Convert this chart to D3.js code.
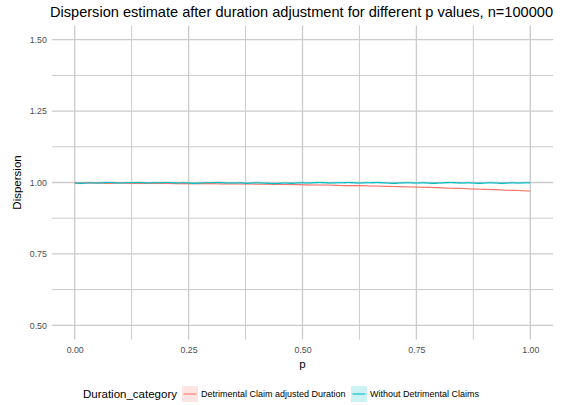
<!DOCTYPE html>
<html>
<head>
<meta charset="utf-8">
<script src="https://cdn.jsdelivr.net/npm/d3@7"></script>
<style>
  html, body { margin: 0; padding: 0; background: #fff; }
  svg { display: block; font-family: "Liberation Sans", Arial, sans-serif; }
</style>
</head>
<body>
<svg id="chart" width="563" height="405"></svg>
<script>
// p grids
const pDetrimental = d3.range(41).map(i => i / 40);
const pWithout = d3.range(81).map(i => i / 80);

// Mean dispersion estimate, detrimental claims kept with adjusted duration
const detrimentalMean = [
  0.998, 0.998, 0.998, 0.997, 0.998, 0.997, 0.997, 0.997, 0.997, 0.996,
  0.996, 0.996, 0.996, 0.995, 0.995, 0.995, 0.994, 0.994, 0.993, 0.993,
  0.992, 0.991, 0.991, 0.990, 0.989, 0.989, 0.988, 0.987, 0.986, 0.985,
  0.984, 0.983, 0.982, 0.980, 0.979, 0.977, 0.976, 0.975, 0.973, 0.972,
  0.970
];

// Mean dispersion estimate, detrimental claims removed
const withoutMean = [
  0.998, 0.997, 0.998, 0.999, 0.998, 0.999, 1.000, 0.999, 0.998, 0.999,
  0.999, 1.000, 0.999, 0.998, 0.999, 0.999, 1.000, 0.999, 0.998, 0.999,
  0.998, 0.997, 0.998, 0.999, 0.999, 1.000, 0.999, 0.998, 0.998, 0.999,
  0.997, 0.998, 0.999, 0.998, 0.997, 0.996, 0.997, 0.998, 0.997, 0.998,
  0.999, 0.998, 0.999, 1.000, 0.999, 0.998, 0.999, 0.999, 1.000, 0.999,
  0.998, 0.999, 0.999, 1.000, 0.999, 0.998, 0.997, 0.998, 0.999, 0.999,
  0.998, 0.999, 0.998, 0.997, 0.998, 0.999, 1.000, 0.999, 0.998, 0.999,
  0.998, 0.997, 0.998, 0.999, 0.998, 0.997, 0.998, 0.999, 0.998, 0.999,
  0.999
];

// Half-width of the confidence band for each category
const detrimentalBand = 0.0028;
const withoutBand = 0.0035;

const categories = ["Detrimental Claim adjusted Duration", "Without Detrimental Claims"];
const categoryColors = ["#F8766D", "#00BFC4"];

const xTicks = [0, 0.25, 0.5, 0.75, 1];
const xMinor = [0.125, 0.375, 0.625, 0.875];
const yTicks = [0.5, 0.75, 1.0, 1.25, 1.5];
const yMinor = [0.625, 0.875, 1.125, 1.375];

const titleText = "Dispersion estimate after duration adjustment for different p values, n=100000";

const svg = d3.select("#chart");

const x = d3.scaleLinear().domain([0, 1]).range([74.7, 530.3]);
const y = d3.scaleLinear().domain([0.5, 1.5]).range([325.3, 39.7]);

const panel = { left: 51.9, right: 553.1, top: 25.4, bottom: 339.6 };

const grid = svg.append("g");
const gridColor = "#cbcbcb";

// horizontal grid lines
grid.selectAll("line.hmin").data(yMinor).join("line")
  .attr("x1", panel.left).attr("x2", panel.right)
  .attr("y1", d => y(d)).attr("y2", d => y(d))
  .attr("stroke", gridColor).attr("stroke-width", 1);
grid.selectAll("line.hmaj").data(yTicks).join("line")
  .attr("x1", panel.left).attr("x2", panel.right)
  .attr("y1", d => y(d)).attr("y2", d => y(d))
  .attr("stroke", gridColor).attr("stroke-width", 1.3);

// vertical grid lines
grid.selectAll("line.vmin").data(xMinor).join("line")
  .attr("y1", panel.top).attr("y2", panel.bottom)
  .attr("x1", d => x(d)).attr("x2", d => x(d))
  .attr("stroke", gridColor).attr("stroke-width", 1);
grid.selectAll("line.vmaj").data(xTicks).join("line")
  .attr("y1", panel.top).attr("y2", panel.bottom)
  .attr("x1", d => x(d)).attr("x2", d => x(d))
  .attr("stroke", gridColor).attr("stroke-width", 1.3);

// axes (labels only, no domain line / ticks)
const fmt = d3.format(".2f");
const xAxis = svg.append("g")
  .attr("transform", `translate(0,${panel.bottom})`)
  .call(d3.axisBottom(x).tickValues(xTicks).tickFormat(fmt).tickSize(0).tickPadding(7));
const yAxis = svg.append("g")
  .attr("transform", `translate(${panel.left},0)`)
  .call(d3.axisLeft(y).tickValues(yTicks).tickFormat(fmt).tickSize(0).tickPadding(5));
[xAxis, yAxis].forEach(a => {
  a.select(".domain").remove();
  a.selectAll("text").attr("fill", "#4d4d4d").style("font-size", "8.8px")
    .style("font-family", "Liberation Sans, Arial, sans-serif");
});

// series
const series = [
  { p: pDetrimental, mean: detrimentalMean, band: detrimentalBand, color: categoryColors[0] },
  { p: pWithout, mean: withoutMean, band: withoutBand, color: categoryColors[1] }
];

const area = d3.area()
  .x(d => x(d.p)).y0(d => y(d.lo)).y1(d => y(d.hi))
  .curve(d3.curveMonotoneX);
const line = d3.line().x(d => x(d.p)).y(d => y(d.v)).curve(d3.curveMonotoneX);

const marks = svg.append("g");
series.forEach(s => {
  const pts = s.p.map((p, i) => ({ p, v: s.mean[i], lo: s.mean[i] - s.band, hi: s.mean[i] + s.band }));
  marks.append("path").datum(pts).attr("d", area)
    .attr("fill", s.color).attr("fill-opacity", 0.2);
  s.pts = pts;
});
series.forEach(s => {
  marks.append("path").datum(s.pts).attr("d", line)
    .attr("fill", "none").attr("stroke", s.color).attr("stroke-width", 1.1);
});

// titles
svg.append("text").attr("x", 301.5).attr("y", 17).attr("text-anchor", "middle")
  .attr("fill", "#000").style("font-size", "14.6px").text(titleText);
svg.append("text").attr("x", x(0.5)).attr("y", 368).attr("text-anchor", "middle")
  .attr("fill", "#000").style("font-size", "11.5px").text("p");
svg.append("text").attr("transform", `translate(21,${y(1.0)}) rotate(-90)`)
  .attr("text-anchor", "middle").attr("fill", "#000").style("font-size", "11.5px").text("Dispersion");

// legend
const legend = svg.append("g").attr("transform", "translate(0,394)");
legend.append("text").attr("x", 83).attr("y", 4).attr("fill", "#000")
  .style("font-size", "11.5px").text("Duration_category");
const keyX = [182, 351];
categories.forEach((c, i) => {
  const g = legend.append("g").attr("transform", `translate(${keyX[i]},0)`);
  g.append("rect").attr("x", 0).attr("y", -8).attr("width", 16).attr("height", 16)
    .attr("fill", categoryColors[i]).attr("fill-opacity", 0.2);
  g.append("line").attr("x1", 1.5).attr("x2", 14.5).attr("y1", 0).attr("y2", 0)
    .attr("stroke", categoryColors[i]).attr("stroke-width", 1.1);
  g.append("text").attr("x", 19).attr("y", 3.3).attr("fill", "#000")
    .style("font-size", "9px").text(c);
});
</script>
</body>
</html>
